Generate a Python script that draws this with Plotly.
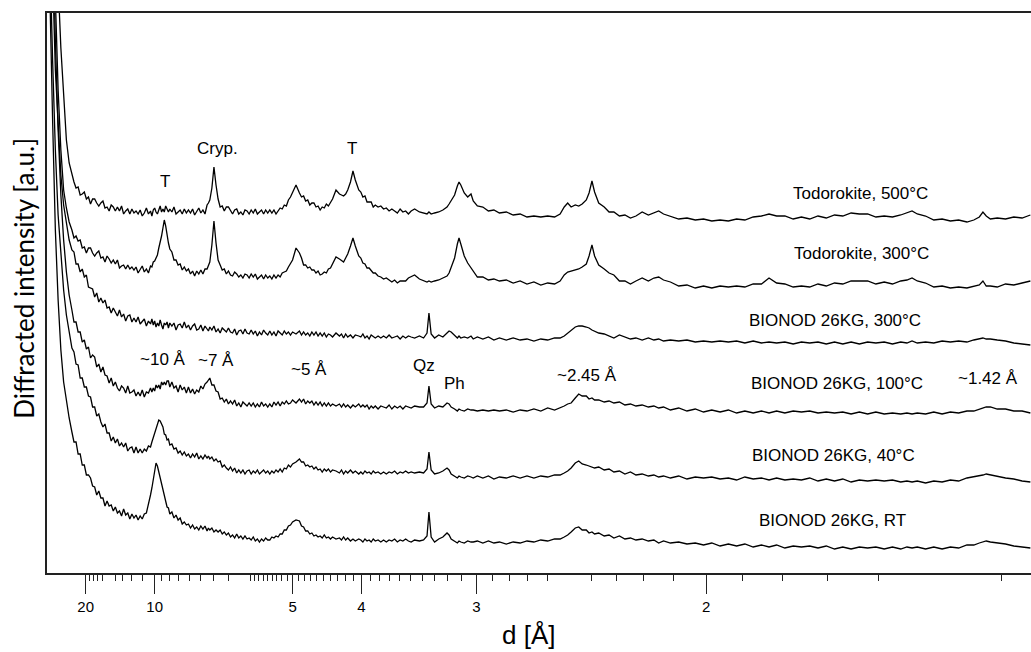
import plotly.graph_objects as go

# x values: reciprocal spacing 1/d (1/Å); the axis is labelled in d (Å)
Q = [0.022, 0.024, 0.026, 0.028, 0.030, 0.032, 0.034, 0.036, 0.038, 0.040,
     0.0415, 0.043, 0.0445, 0.046, 0.0475, 0.049, 0.0505, 0.052, 0.0535, 0.055,
     0.0565, 0.058, 0.0595, 0.061, 0.0625, 0.064, 0.0655, 0.067, 0.0685, 0.070,
     0.0715, 0.073, 0.0745, 0.076, 0.0775, 0.079, 0.0805, 0.082, 0.0835, 0.085,
     0.0865, 0.088, 0.0895, 0.091, 0.0925, 0.094, 0.0955, 0.097, 0.098, 0.099,
     0.100, 0.101, 0.102, 0.103, 0.104, 0.105, 0.106, 0.107, 0.108, 0.109,
     0.110, 0.111, 0.1125, 0.114, 0.1155, 0.117, 0.1185, 0.120, 0.1215, 0.123,
     0.1245, 0.126, 0.1275, 0.129, 0.1305, 0.132, 0.1335, 0.135, 0.1365, 0.138,
     0.139, 0.140, 0.1415, 0.143, 0.1445, 0.146, 0.1475, 0.149, 0.1505, 0.152,
     0.1535, 0.155, 0.1565, 0.158, 0.1595, 0.161, 0.1625, 0.164, 0.1655, 0.167,
     0.1685, 0.170, 0.1715, 0.173, 0.1745, 0.176, 0.1775, 0.179, 0.1805, 0.182,
     0.1835, 0.185, 0.1865, 0.188, 0.1895, 0.191, 0.1925, 0.194, 0.1955, 0.197,
     0.1985, 0.200, 0.2025, 0.205, 0.2065, 0.208, 0.2095, 0.211, 0.2125, 0.214,
     0.2155, 0.217, 0.2185, 0.220, 0.2215, 0.223, 0.2245, 0.226, 0.2275, 0.229,
     0.2315, 0.234, 0.2355, 0.237, 0.2385, 0.240, 0.242, 0.2438, 0.2455, 0.248,
     0.2495, 0.251, 0.2525, 0.254, 0.2555, 0.257, 0.2585, 0.260, 0.262, 0.264,
     0.266, 0.268, 0.270, 0.272, 0.274, 0.276, 0.278, 0.280, 0.282, 0.284,
     0.286, 0.2885, 0.292, 0.295, 0.2975, 0.2989, 0.3005, 0.303, 0.306, 0.309,
     0.312, 0.3135, 0.315, 0.3175, 0.3195, 0.3207, 0.322, 0.3245, 0.327, 0.3294,
     0.331, 0.334, 0.338, 0.342, 0.346, 0.350, 0.355, 0.360, 0.365, 0.370,
     0.375, 0.380, 0.385, 0.390, 0.394, 0.397, 0.3995, 0.402, 0.405, 0.4075,
     0.410, 0.413, 0.415, 0.4171, 0.419, 0.422, 0.426, 0.4295, 0.433, 0.437,
     0.441, 0.445, 0.449, 0.4535, 0.458, 0.462, 0.4655, 0.469, 0.474, 0.480,
     0.486, 0.492, 0.498, 0.504, 0.510, 0.516, 0.522, 0.528, 0.534, 0.540,
     0.5455, 0.551, 0.557, 0.563, 0.569, 0.575, 0.581, 0.587, 0.593, 0.599,
     0.605, 0.611, 0.617, 0.623, 0.629, 0.635, 0.641, 0.6455, 0.6492, 0.653,
     0.659, 0.665, 0.671, 0.677, 0.683, 0.689, 0.694, 0.698, 0.7006, 0.703,
     0.706, 0.711, 0.717, 0.723, 0.729, 0.735]

tod_500 = [1000, 900, 780, 680, 590, 525, 478, 433, 410, 398,
           391, 385, 386, 378, 379, 381, 374, 376, 369, 374,
           374, 370, 367, 370, 372, 365, 366, 362, 368, 366,
           362, 366, 362, 367, 359, 362, 364, 359, 364, 360,
           362, 359, 363, 357, 360, 365, 359, 362, 357, 363,
           365, 361, 359, 363, 367, 361, 364, 361, 367, 364,
           361, 364, 361, 366, 359, 361, 363, 359, 364, 360,
           363, 360, 364, 358, 361, 365, 360, 363, 359, 368,
           370, 373, 385, 406, 388, 374, 366, 367, 362, 366,
           366, 362, 359, 363, 364, 359, 361, 358, 363, 362,
           359, 363, 360, 364, 359, 361, 363, 359, 363, 360,
           363, 360, 363, 359, 362, 365, 364, 368, 367, 373,
           376, 381, 388, 380, 376, 377, 372, 373, 368, 370,
           370, 366, 367, 363, 366, 365, 369, 367, 370, 374,
           383, 379, 378, 377, 379, 383, 391, 402, 393, 383,
           381, 376, 377, 371, 371, 371, 366, 368, 366, 367,
           364, 365, 362, 364, 362, 360, 364, 361, 362, 359,
           362, 364, 361, 360, 359, 361, 359, 360, 361, 363,
           366, 369, 372, 378, 387, 391, 388, 380, 376, 379,
           372, 367, 366, 362, 363, 360, 361, 358, 359, 356,
           357, 356, 357, 356, 359, 366, 370, 366, 368, 367,
           369, 373, 380, 392, 381, 370, 366, 361, 361, 357,
           358, 355, 357, 361, 358, 360, 362, 359, 357, 354,
           355, 353, 354, 352, 353, 352, 354, 353, 356, 357,
           359, 357, 357, 354, 356, 354, 357, 355, 358, 357,
           360, 359, 359, 356, 357, 356, 358, 360, 362, 359,
           357, 353, 354, 352, 353, 351, 353, 356, 361, 357,
           354, 355, 354, 356, 355, 358]

tod_300 = [1100, 950, 760, 575, 483, 423, 383, 365, 351, 343,
           335, 337, 332, 333, 325, 326, 320, 325, 325, 320,
           317, 320, 322, 315, 316, 311, 317, 314, 310, 313,
           309, 313, 305, 307, 308, 304, 308, 304, 306, 303,
           306, 300, 303, 307, 301, 304, 300, 307, 306, 311,
           312, 316, 318, 325, 330, 337, 345, 353, 347, 337,
           330, 324, 321, 313, 313, 308, 309, 303, 306, 302,
           304, 299, 302, 297, 302, 299, 303, 299, 304, 304,
           308, 311, 328, 352, 330, 313, 308, 303, 304, 299,
           302, 298, 297, 301, 299, 296, 298, 295, 299, 298,
           295, 299, 296, 299, 294, 296, 298, 294, 298, 295,
           297, 294, 298, 295, 298, 296, 300, 301, 302, 306,
           309, 313, 325, 320, 315, 308, 308, 305, 306, 303,
           303, 300, 302, 298, 299, 301, 300, 304, 305, 309,
           316, 314, 312, 311, 315, 319, 327, 335, 327, 317,
           315, 310, 309, 305, 305, 302, 300, 300, 297, 296,
           294, 295, 293, 291, 293, 290, 292, 292, 292, 295,
           296, 298, 294, 292, 291, 292, 291, 292, 293, 295,
           297, 300, 305, 315, 329, 335, 329, 317, 310, 305,
           301, 296, 296, 293, 294, 292, 293, 290, 292, 289,
           291, 288, 290, 289, 292, 298, 301, 302, 303, 304,
           306, 309, 317, 328, 317, 308, 304, 300, 298, 292,
           292, 289, 292, 295, 292, 295, 296, 293, 291, 287,
           288, 285, 287, 285, 287, 286, 287, 286, 289, 289,
           295, 290, 289, 286, 287, 286, 289, 287, 290, 289,
           292, 292, 292, 289, 291, 289, 292, 293, 295, 292,
           290, 286, 287, 285, 286, 285, 287, 288, 292, 287,
           287, 286, 289, 288, 290, 292]

bio_300 = [1000, 800, 600, 503, 443, 398, 368, 348, 333, 323,
           321, 309, 309, 301, 304, 296, 298, 286, 285, 284,
           276, 280, 271, 275, 270, 273, 265, 266, 260, 265,
           261, 257, 263, 256, 259, 252, 257, 258, 251, 255,
           251, 256, 249, 251, 254, 247, 252, 249, 254, 248,
           252, 246, 250, 247, 253, 248, 244, 250, 248, 251,
           245, 250, 247, 250, 243, 248, 249, 245, 251, 245,
           248, 243, 247, 249, 243, 244, 248, 242, 247, 244,
           242, 246, 243, 247, 241, 244, 240, 245, 243, 241,
           245, 241, 240, 244, 238, 242, 243, 239, 244, 240,
           239, 243, 239, 242, 237, 241, 238, 243, 240, 238,
           242, 238, 241, 237, 242, 240, 238, 242, 239, 241,
           238, 241, 239, 242, 238, 241, 238, 240, 237, 241,
           238, 241, 237, 240, 237, 240, 236, 239, 238, 236,
           240, 237, 239, 235, 239, 236, 238, 235, 238, 237,
           236, 239, 235, 237, 234, 238, 236, 235, 237, 235,
           237, 235, 238, 235, 236, 237, 234, 237, 235, 237,
           236, 235, 237, 235, 240, 260, 239, 235, 238, 236,
           240, 242, 241, 238, 235, 237, 235, 236, 235, 237,
           234, 236, 234, 236, 233, 235, 233, 235, 233, 234,
           232, 234, 233, 235, 235, 237, 240, 243, 246, 247,
           247, 246, 245, 243, 242, 240, 239, 237, 235, 238,
           236, 234, 235, 233, 235, 233, 234, 232, 233, 232,
           233, 231, 232, 231, 232, 231, 232, 230, 232, 230,
           231, 230, 231, 229, 231, 230, 231, 229, 231, 229,
           231, 229, 231, 230, 231, 229, 231, 230, 232, 230,
           231, 230, 232, 231, 232, 231, 233, 234, 235, 234,
           234, 233, 232, 230, 229, 228]

bio_100 = [1000, 850, 650, 533, 443, 378, 333, 301, 278, 263,
           251, 251, 241, 241, 231, 233, 224, 226, 215, 218,
           216, 206, 209, 201, 206, 198, 197, 190, 195, 187,
           191, 185, 182, 187, 185, 180, 187, 180, 181, 183,
           177, 181, 177, 183, 176, 181, 180, 185, 181, 185,
           182, 188, 185, 188, 184, 191, 188, 191, 188, 192,
           192, 186, 191, 185, 187, 181, 188, 183, 186, 180,
           186, 180, 184, 179, 183, 181, 187, 184, 189, 191,
           193, 195, 188, 188, 182, 181, 174, 175, 171, 174,
           169, 172, 169, 173, 167, 170, 166, 171, 169, 167,
           170, 167, 170, 166, 169, 166, 171, 167, 169, 166,
           169, 166, 171, 168, 171, 167, 171, 169, 172, 169,
           170, 173, 170, 174, 171, 174, 169, 172, 170, 172,
           168, 171, 168, 171, 167, 170, 167, 170, 167, 169,
           167, 169, 166, 169, 166, 168, 165, 168, 166, 169,
           166, 168, 166, 168, 164, 167, 165, 167, 164, 167,
           166, 165, 168, 164, 167, 165, 167, 164, 167, 166,
           165, 167, 166, 166, 170, 187, 169, 165, 167, 166,
           170, 169, 166, 164, 162, 164, 163, 162, 164, 163,
           163, 162, 163, 162, 163, 162, 163, 161, 163, 162,
           164, 162, 165, 163, 165, 167, 169, 170, 175, 179,
           177, 177, 174, 175, 173, 173, 171, 172, 170, 171,
           168, 169, 167, 168, 166, 167, 165, 166, 163, 165,
           162, 164, 161, 163, 161, 163, 160, 162, 160, 162,
           160, 162, 160, 162, 161, 162, 160, 161, 160, 161,
           159, 161, 159, 161, 159, 160, 159, 160, 159, 160,
           159, 161, 159, 161, 160, 162, 162, 164, 165, 166,
           166, 164, 164, 162, 162, 160]

bio_40 = [900, 620, 513, 423, 358, 315, 283, 258, 240, 225,
          221, 209, 208, 195, 195, 186, 186, 177, 176, 166,
          166, 157, 159, 151, 146, 149, 140, 140, 132, 136,
          130, 134, 127, 130, 126, 130, 122, 125, 126, 120,
          126, 120, 124, 120, 124, 122, 127, 126, 131, 135,
          141, 145, 148, 153, 152, 149, 146, 139, 138, 133,
          134, 128, 129, 124, 125, 120, 122, 118, 121, 117,
          119, 115, 119, 116, 120, 114, 117, 114, 118, 115,
          117, 114, 116, 112, 114, 111, 112, 106, 108, 105,
          103, 106, 102, 105, 100, 103, 100, 103, 99, 102,
          103, 99, 102, 100, 103, 99, 101, 103, 100, 102,
          99, 102, 100, 103, 101, 104, 101, 105, 104, 108,
          106, 109, 111, 114, 111, 111, 107, 108, 106, 107,
          104, 106, 103, 104, 101, 104, 102, 104, 101, 103,
          102, 100, 103, 99, 102, 100, 103, 100, 102, 99,
          101, 99, 102, 100, 101, 99, 102, 100, 101, 99,
          101, 99, 101, 100, 102, 99, 101, 100, 102, 100,
          101, 100, 101, 100, 104, 121, 103, 99, 100, 102,
          105, 103, 99, 97, 95, 97, 96, 95, 97, 96,
          95, 97, 95, 97, 94, 96, 95, 97, 95, 97,
          95, 97, 96, 98, 98, 100, 102, 105, 110, 112,
          109, 108, 107, 106, 105, 106, 103, 104, 101, 102,
          99, 101, 98, 99, 97, 98, 96, 97, 95, 97,
          94, 96, 95, 96, 94, 95, 93, 96, 94, 95,
          93, 95, 93, 94, 93, 95, 92, 94, 92, 94,
          91, 93, 92, 93, 92, 93, 91, 92, 91, 92,
          90, 92, 91, 93, 92, 95, 96, 97, 98, 99,
          98, 97, 95, 94, 92, 91]

bio_rt = [800, 580, 453, 343, 273, 223, 191, 171, 155, 141,
          131, 131, 119, 119, 108, 108, 98, 98, 95, 87,
          86, 78, 82, 75, 75, 67, 72, 67, 68, 62,
          66, 60, 62, 57, 64, 58, 60, 54, 59, 55,
          58, 53, 57, 54, 59, 60, 68, 78, 85, 95,
          103, 110, 107, 101, 94, 89, 82, 75, 72, 66,
          65, 59, 61, 55, 58, 53, 55, 49, 51, 48,
          49, 45, 48, 44, 46, 43, 47, 44, 47, 42,
          45, 43, 45, 41, 43, 41, 43, 39, 41, 38,
          40, 36, 38, 35, 39, 35, 37, 34, 37, 34,
          35, 33, 36, 32, 34, 31, 34, 32, 35, 33,
          33, 36, 35, 37, 36, 39, 39, 43, 43, 47,
          48, 51, 53, 52, 47, 46, 42, 42, 39, 40,
          37, 38, 36, 37, 35, 38, 35, 36, 34, 36,
          34, 35, 33, 36, 33, 35, 32, 34, 32, 34,
          33, 31, 34, 32, 33, 31, 34, 32, 33, 31,
          33, 31, 33, 32, 34, 31, 33, 32, 34, 32,
          31, 33, 32, 33, 37, 61, 36, 31, 34, 36,
          40, 38, 34, 32, 30, 32, 31, 30, 32, 31,
          31, 32, 30, 32, 30, 31, 29, 31, 30, 32,
          31, 33, 32, 34, 34, 36, 38, 41, 45, 46,
          43, 43, 40, 41, 39, 40, 37, 38, 35, 37,
          34, 35, 33, 34, 32, 33, 30, 32, 30, 31,
          29, 30, 28, 30, 27, 29, 27, 29, 26, 28,
          26, 28, 25, 27, 26, 27, 25, 27, 24, 26,
          24, 26, 25, 26, 24, 26, 24, 26, 25, 26,
          24, 26, 24, 26, 25, 28, 28, 30, 31, 32,
          31, 30, 29, 27, 26, 25]

series = [tod_500, tod_300, bio_300, bio_100, bio_40, bio_rt]
series_names = ["Todorokite, 500°C", "Todorokite, 300°C", "BIONOD 26KG, 300°C",
                "BIONOD 26KG, 100°C", "BIONOD 26KG, 40°C", "BIONOD 26KG, RT"]
# label anchor positions (1/d, intensity)
name_x = [0.6115, 0.6122, 0.5933, 0.5948, 0.5926, 0.5912]
name_y = [380, 320, 253, 190, 118, 53]

peak_labels = ["T", "Cryp.", "T", "~10 Å", "~7 Å", "~5 Å", "Qz", "Ph", "~2.45 Å", "~1.42 Å"]
peak_x = [0.1075, 0.1459, 0.2431, 0.1061, 0.1445, 0.2119, 0.2953, 0.3171, 0.4135, 0.7043]
peak_y = [392, 425, 425, 214, 213, 204, 208, 190, 198, 195]

# axis ticks in d (Å)
major_d = [20, 10, 5, 4, 3, 2]
major_text = ["20", "10", "5", "4", "3", "2"]
medium_d = [15, 6, 2.5, 1.5]
minor_d = [19, 18, 17, 16, 14, 13, 12, 11,
           9.5, 9, 8.5, 8, 7.5, 7, 6.5,
           5.9, 5.8, 5.7, 5.6, 5.5, 5.4, 5.3, 5.2, 5.1,
           4.9, 4.8, 4.7, 4.6, 4.5, 4.4, 4.3, 4.2, 4.1,
           3.9, 3.8, 3.7, 3.6, 3.5, 3.4, 3.3, 3.2, 3.1,
           2.9, 2.8, 2.7, 2.6, 2.4, 2.3, 2.2, 2.1,
           1.9, 1.8, 1.7, 1.6, 1.4]

AX = "#222222"
FONT = "Arial, 'Liberation Sans', sans-serif"
x_range = [0.02194, 0.73546]

fig = go.Figure()
for ys, nm in zip(series, series_names):
    fig.add_trace(go.Scatter(x=Q, y=ys, mode="lines", name=nm,
                             line=dict(color="black", width=1.3),
                             showlegend=False, hoverinfo="skip"))

ann = []
for t, xx, yy in zip(series_names, name_x, name_y):
    ann.append(dict(x=xx, y=yy, xref="x", yref="y", text=t, showarrow=False,
                    font=dict(family=FONT, size=17, color="black"),
                    xanchor="center", yanchor="middle"))
for t, xx, yy in zip(peak_labels, peak_x, peak_y):
    ann.append(dict(x=xx, y=yy, xref="x", yref="y", text=t, showarrow=False,
                    font=dict(family=FONT, size=17, color="black"),
                    xanchor="center", yanchor="middle"))
ann.append(dict(x=0.4898, y=-0.111, xref="paper", yref="paper", text="d [Å]",
                showarrow=False, font=dict(family=FONT, size=26, color="black"),
                xanchor="center", yanchor="middle"))
ann.append(dict(x=-0.0234, y=0.527, xref="paper", yref="paper",
                text="Diffracted intensity [a.u.]", textangle=-90,
                showarrow=False, font=dict(family="Lato, 'Open Sans', sans-serif", size=26, color="black"),
                xanchor="center", yanchor="middle"))

fig.update_layout(
    width=1031, height=652,
    margin=dict(l=47, r=0, t=13, b=79),
    paper_bgcolor="white", plot_bgcolor="white",
    showlegend=False,
    annotations=ann,
    xaxis=dict(
        range=x_range, showgrid=False, zeroline=False,
        showline=True, linecolor=AX, linewidth=1.5, mirror=True,
        tickmode="array", tickvals=[1 / d for d in major_d], ticktext=major_text,
        ticks="outside", ticklen=19, tickwidth=1, tickcolor=AX,
        tickfont=dict(family=FONT, size=15, color="black"),
        minor=dict(tickmode="array", tickvals=[1 / d for d in minor_d],
                   ticks="outside", ticklen=6, tickwidth=1, tickcolor=AX,
                   showgrid=False),
    ),
    xaxis2=dict(
        range=x_range, overlaying="x", anchor="y", side="bottom",
        showgrid=False, zeroline=False, showline=False,
        tickmode="array", tickvals=[1 / d for d in medium_d],
        ticks="outside", ticklen=11, tickwidth=1, tickcolor=AX,
        showticklabels=False,
    ),
    yaxis=dict(
        range=[0, 560], showgrid=False, zeroline=False,
        showline=True, linecolor=AX, linewidth=1.5,
        showticklabels=False, ticks="",
    ),
)

fig.write_html("out.html")
